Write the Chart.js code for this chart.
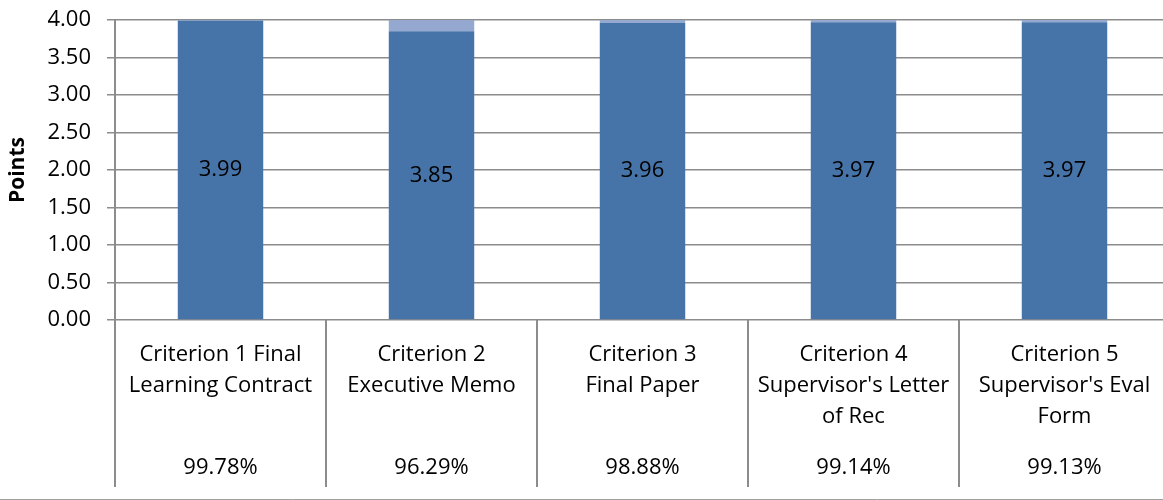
<!DOCTYPE html>
<html>
<head>
<meta charset="utf-8">
<script src="https://cdn.jsdelivr.net/npm/chart.js@4/dist/chart.umd.min.js"></script>
<style>
  html, body { margin: 0; padding: 0; overflow: hidden; background: #fff; }
  #wrap { width: 1170px; height: 500px; }
</style>
</head>
<body>
<div id="wrap"><canvas id="myChart"></canvas></div>
<script>
// data
var categories = [
  ["Criterion 1 Final", "Learning Contract"],
  ["Criterion 2", "Executive Memo"],
  ["Criterion 3", "Final Paper"],
  ["Criterion 4", "Supervisor's Letter", "of Rec"],
  ["Criterion 5", "Supervisor's Eval", "Form"]
];
var scores = [3.99, 3.85, 3.96, 3.97, 3.97];
var maxPoints = [4, 4, 4, 4, 4];
var remainder = scores.map(function (v, i) { return +(maxPoints[i] - v).toFixed(2); });
var percents = ["99.78%", "96.29%", "98.88%", "99.14%", "99.13%"];

var FONT = "'Open Sans', 'Liberation Sans', sans-serif";
var FS = 22;
var GRID = '#8c8c8c';

// value labels in the bars, plus the category table under the axis
var tablePlugin = {
  id: 'table',
  afterDatasetsDraw: function (chart) {
    var ctx = chart.ctx;
    var meta = chart.getDatasetMeta(0);
    ctx.save();
    ctx.fillStyle = '#000';
    ctx.font = FS + 'px ' + FONT;
    ctx.textAlign = 'center';
    ctx.textBaseline = 'middle';
    meta.data.forEach(function (bar, i) {
      ctx.fillText(scores[i].toFixed(2), bar.x, (bar.y + bar.base) / 2);
    });
    ctx.restore();
  },
  afterDraw: function (chart) {
    var ctx = chart.ctx;
    var x = chart.scales.x;
    var area = chart.chartArea;
    var step = (area.right - area.left) / categories.length;
    ctx.save();
    // dividers
    ctx.strokeStyle = GRID;
    ctx.lineWidth = 2;
    for (var i = 0; i < categories.length; i++) {
      var lx = area.left + i * step;
      ctx.beginPath();
      ctx.moveTo(lx, area.bottom);
      ctx.lineTo(lx, 487);
      ctx.stroke();
    }
    ctx.lineWidth = 1;
    ctx.strokeStyle = '#a0a0a0';
    ctx.beginPath();
    ctx.moveTo(0, 499.5);
    ctx.lineTo(chart.width, 499.5);
    ctx.stroke();
    // text
    ctx.fillStyle = '#000';
    ctx.font = FS + 'px ' + FONT;
    ctx.textAlign = 'center';
    ctx.textBaseline = 'middle';
    categories.forEach(function (lines, i) {
      var cx = x.getPixelForValue(i);
      lines.forEach(function (t, j) {
        ctx.fillText(t, cx, 355 + j * 31);
      });
      ctx.fillText(percents[i], cx, 468);
    });
    ctx.restore();
  }
};

var ctx = document.getElementById('myChart').getContext('2d');
var myChart = new Chart(ctx, {
  type: 'bar',
  data: {
    labels: categories,
    datasets: [{
      data: scores,
      backgroundColor: '#4674a8',
      barPercentage: 0.405,
      categoryPercentage: 1
    }, {
      data: remainder,
      backgroundColor: '#95a9d0',
      barPercentage: 0.405,
      categoryPercentage: 1
    }]
  },
  options: {
    responsive: true,
    maintainAspectRatio: false,
    animation: false,
    layout: { padding: { top: 20, bottom: 180, left: 0, right: 0 } },
    plugins: {
      legend: { display: false },
      tooltip: { enabled: false }
    },
    scales: {
      x: {
        stacked: true,
        display: false
      },
      y: {
        stacked: true,
        min: 0,
        max: 4,
        afterFit: function (scale) {
          scale.width = 115;
          scale.paddingTop = 0;
          scale.paddingBottom = 0;
        },
        ticks: {
          stepSize: 0.5,
          color: '#000',
          padding: 16,
          font: { family: FONT, size: FS },
          callback: function (v) { return v.toFixed(2); }
        },
        grid: {
          color: GRID,
          lineWidth: 1.5,
          tickLength: 8
        },
        border: { color: GRID, width: 2 },
        title: {
          display: true,
          text: 'Points',
          color: '#000',
          padding: { top: 5, bottom: 0 },
          font: { family: FONT, size: 21, weight: 'bold' }
        }
      }
    }
  },
  plugins: [tablePlugin]
});
</script>
</body>
</html>
